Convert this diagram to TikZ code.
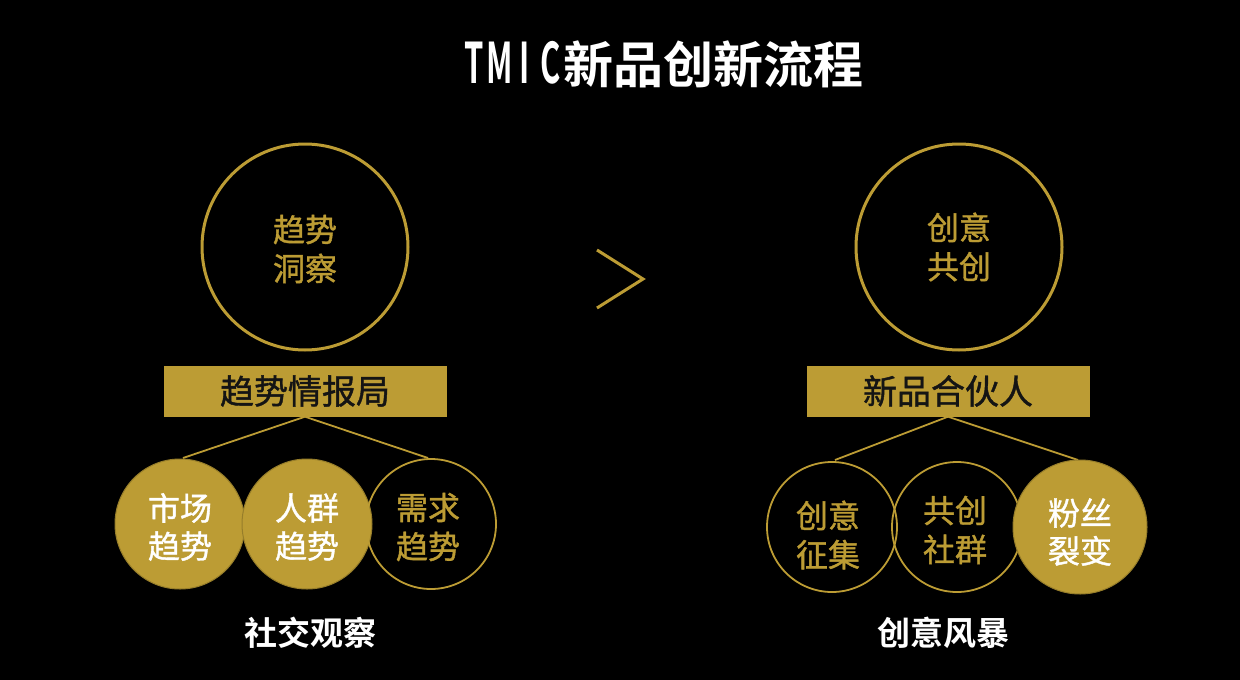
\documentclass[tikz,border=0pt]{standalone}
\usepackage{fontspec}
\usepackage{graphicx}
\newfontfamily\cjk{Noto Sans CJK SC}[BoldFont={Noto Sans CJK SC Bold}]
\newfontfamily\cjkm{Noto Sans CJK SC}[FakeBold=1.2]
\definecolor{gold}{RGB}{188,156,52}
\definecolor{ink}{RGB}{20,20,20}
\newcommand{\ltr}[1]{\makebox[25.5pt]{\scalebox{0.62}[1.12]{#1}}}
\begin{document}
\begin{tikzpicture}[x=1pt,y=-1pt,
  bigcirc/.style={circle,draw=gold,line width=3pt,minimum size=206pt,inner sep=0pt},
  smallring/.style={circle,draw=gold,line width=1.8pt,minimum size=130pt,inner sep=0pt},
  smallfill/.style={circle,fill=gold,draw=gold!80!black,line width=1pt,minimum size=130pt,inner sep=0pt},
  goldtxt/.style={text=gold,font=\cjkm\fontsize{32}{39}\selectfont,align=center},
  whitetxt/.style={text=white,font=\cjkm\fontsize{32}{38}\selectfont,align=center},
  bar/.style={fill=gold,minimum width=283pt,minimum height=51pt,inner sep=0pt,text=ink,font=\cjkm\fontsize{34}{40}\selectfont},
  caption/.style={text=white,font=\cjk\bfseries\fontsize{33}{40}\selectfont},
  link/.style={draw=gold,line width=1.8pt}]
\fill[black] (0,0) rectangle (1240,680);
\useasboundingbox (0,0) rectangle (1240,680);

\node[text=white,font=\cjk\bfseries\fontsize{50}{56}\selectfont,inner sep=0pt] (title) at (662,64) {\ltr{T}\ltr{M}\ltr{I}\ltr{C}新品创新流程};

% top circles
\node[bigcirc] (c1) at (305,247) {};
\node[goldtxt] (c1t) at (305,249) {趋势\\洞察};
\node[bigcirc] (c2) at (959,247) {};
\node[goldtxt] (c2t) at (959,247) {创意\\共创};

% chevron
\coordinate (ch1) at (597,250);
\coordinate (ch2) at (643,279);
\coordinate (ch3) at (597,308);
\draw[draw=gold,line width=3pt] (ch1) -- (ch2) -- (ch3);

% bars
\node[bar] (b1) at (305,391) {趋势情报局};
\node[bar] (b2) at (948,391) {新品合伙人};

% left group
\coordinate (l1) at (183,458);
\coordinate (l2) at (428,458);
\draw[link] (l1) -- (b1.south) -- (l2);
\node[smallfill] (s1) at (180,524) {};
\node[smallfill] (s2) at (307,524) {};
\node[smallring] (s3) at (431,524) {};
\node[whitetxt] (s1t) at (180,527) {市场\\趋势};
\node[whitetxt] (s2t) at (307,527) {人群\\趋势};
\node[goldtxt] (s3t) at (428,527) {需求\\趋势};

% right group
\coordinate (r1) at (835,460);
\coordinate (r2) at (1078,460);
\draw[link] (r1) -- (b2.south) -- (r2);
\node[smallring] (t1) at (832,527) {};
\node[smallring] (t2) at (957,527) {};
\node[smallfill,minimum size=134pt] (t3) at (1080,527) {};
\node[goldtxt] (t1t) at (828,535) {创意\\征集};
\node[goldtxt] (t2t) at (955,530) {共创\\社群};
\node[whitetxt] (t3t) at (1080,532) {粉丝\\裂变};

% captions
\node[caption] (cap1) at (310,633) {社交观察};
\node[caption] (cap2) at (943,633) {创意风暴};
\end{tikzpicture}
\end{document}
